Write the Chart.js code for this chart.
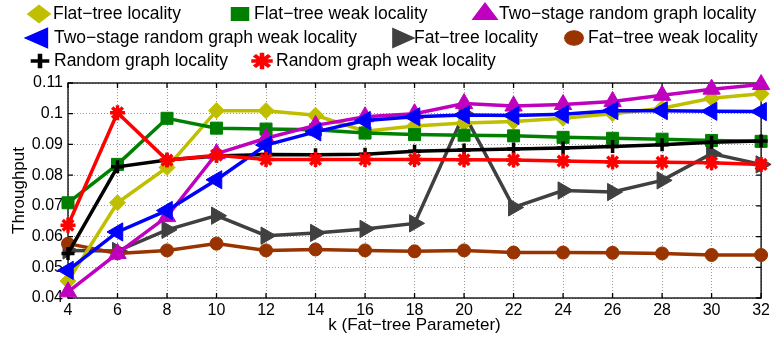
<!DOCTYPE html>
<html>
<head>
<meta charset="utf-8">
<script src="https://cdn.jsdelivr.net/npm/chart.js@4.4.0/dist/chart.umd.min.js"></script>
<style>
  html, body { margin: 0; padding: 0; background: #fff; }
  #wrap { width: 773px; height: 339px; }
</style>
</head>
<body>
<div id="wrap"><canvas id="thr"></canvas></div>
<script>
// k values and y ticks
const kValues = ['4', '6', '8', '10', '12', '14', '16', '18', '20', '22', '24', '26', '28', '30', '32'];
const yTicks = [0.04, 0.05, 0.06, 0.07, 0.08, 0.09, 0.1, 0.11];

// throughput per topology / traffic pattern
const flatTreeLoc   = [0.0455, 0.071, 0.0825, 0.101, 0.101, 0.0995, 0.0943, 0.096, 0.097, 0.0975, 0.0985, 0.100, 0.1018, 0.105, 0.1065];
const flatTreeWeak  = [0.071, 0.0835, 0.0985, 0.0953, 0.095, 0.0948, 0.0937, 0.0932, 0.093, 0.0928, 0.0923, 0.092, 0.0917, 0.0913, 0.091];
const twoStageLoc   = [0.042, 0.0545, 0.0665, 0.087, 0.092, 0.0962, 0.099, 0.100, 0.1033, 0.1025, 0.103, 0.104, 0.106, 0.108, 0.1095];
const twoStageWeak  = [0.049, 0.0615, 0.0685, 0.0785, 0.0898, 0.0941, 0.0978, 0.099, 0.0996, 0.0994, 0.0998, 0.101, 0.101, 0.1008, 0.1007];
const fatTreeLoc    = [0.0555, 0.0553, 0.0622, 0.0668, 0.0603, 0.0612, 0.0625, 0.0643, 0.100, 0.0695, 0.075, 0.0745, 0.0783, 0.087, 0.0835];
const fatTreeWeak   = [0.0577, 0.0545, 0.0555, 0.0577, 0.0555, 0.0558, 0.0555, 0.0552, 0.0555, 0.0548, 0.0548, 0.0547, 0.0545, 0.054, 0.054];
const randomLoc     = [0.0545, 0.0827, 0.0849, 0.0862, 0.0867, 0.0866, 0.0868, 0.0878, 0.0882, 0.0885, 0.0888, 0.0893, 0.0899, 0.0907, 0.0911];
const randomWeak    = [0.0637, 0.1003, 0.0849, 0.0865, 0.0851, 0.0851, 0.0851, 0.0851, 0.085, 0.0849, 0.0846, 0.0843, 0.0842, 0.084, 0.0835];

const FONT = "'Liberation Sans', Arial, Helvetica, sans-serif";
Chart.defaults.font.family = FONT;
Chart.defaults.color = '#000';

function series(label, data, color, style, radius, order, extra = {}) {
	return Object.assign({
		label: label, data: data, order: order,
		borderColor: color, backgroundColor: color,
		borderWidth: 3.5, tension: 0, clip: false,
		pointStyle: style, pointRadius: radius, pointHoverRadius: radius,
		pointBorderWidth: 1
	}, extra);
}

// later entries sit on top (lower order = drawn last)
const datasets = [
	series('Flat\u2212tree locality', flatTreeLoc, '#bfbf00', 'rectRot', 8, 6),
	series('Flat\u2212tree weak locality', flatTreeWeak, '#008000', 'rect', 8.5, 5),
	series('Two\u2212stage random graph locality', twoStageLoc, '#bf00bf', 'triangle', 10, 3),
	series('Two\u2212stage random graph weak locality', twoStageWeak, '#0000ff', 'triangle', 10.5, 2, {pointRotation: -90}),
	series('Fat\u2212tree locality', fatTreeLoc, '#404040', 'triangle', 10, 8, {pointRotation: 90}),
	series('Fat\u2212tree weak locality', fatTreeWeak, '#993300', 'circle', 6.5, 7),
	series('Random graph locality', randomLoc, '#000000', 'cross', 6.5, 4, {pointBorderWidth: 3.5}),
	series('Random graph weak locality', randomWeak, '#ff0000', 'star', 7.5, 1, {pointBorderWidth: 3.5})
];

// box around the plot with inward tick marks
const axesBox = {
	id: 'axesBox',
	beforeDatasetsDraw(chart) {
		const {ctx, chartArea: a, scales: {x, y}} = chart;
		const len = 5;
		ctx.save();
		ctx.strokeStyle = '#000';
		ctx.lineWidth = 1.3;
		ctx.beginPath();
		x.ticks.forEach((t, i) => {
			const px = x.getPixelForTick(i);
			ctx.moveTo(px, a.bottom); ctx.lineTo(px, a.bottom - len);
			ctx.moveTo(px, a.top); ctx.lineTo(px, a.top + len);
		});
		y.ticks.forEach((t, i) => {
			const py = y.getPixelForTick(i);
			ctx.moveTo(a.left, py); ctx.lineTo(a.left + len, py);
			ctx.moveTo(a.right, py); ctx.lineTo(a.right - len, py);
		});
		ctx.stroke();
		ctx.strokeRect(a.left, a.top, a.right - a.left, a.bottom - a.top);
		ctx.restore();
	}
};

// marker-only key in three rows above the plot
const keyLegend = {
	id: 'keyLegend',
	afterDraw(chart, args, opts) {
		const ctx = chart.ctx;
		ctx.save();
		ctx.font = opts.font;
		ctx.textBaseline = 'middle';
		chart.data.datasets.forEach((ds, i) => {
			const slot = opts.slots[i];
			ctx.save();
			ctx.translate(slot.x, slot.y);
			ctx.scale(opts.stretch, 1);
			ctx.fillStyle = ds.backgroundColor;
			ctx.strokeStyle = ds.borderColor;
			ctx.lineWidth = ds.pointBorderWidth;
			Chart.helpers.drawPoint(ctx, {
				pointStyle: ds.pointStyle, rotation: ds.pointRotation || 0,
				radius: ds.pointRadius * opts.grow, borderWidth: ds.pointBorderWidth
			}, 0, 0);
			ctx.restore();
			ctx.fillStyle = '#000';
			ctx.fillText(ds.label, slot.x + opts.gap, slot.y);
		});
		ctx.restore();
	}
};

new Chart(document.getElementById('thr'), {
	type: 'line',
	data: {labels: kValues, datasets: datasets},
	plugins: [axesBox, keyLegend],
	options: {
		responsive: true, maintainAspectRatio: false, animation: false,
		layout: {padding: {left: 4, right: 11, top: 83, bottom: 0}},
		plugins: {
			legend: {display: false},
			tooltip: {enabled: false},
			keyLegend: {
				font: '17.5px ' + FONT, gap: 14, stretch: 1.3, grow: 1.1,
				slots: [
					{x: 39, y: 14}, {x: 240, y: 14}, {x: 485, y: 14},
					{x: 40, y: 38}, {x: 400, y: 38}, {x: 574, y: 38},
					{x: 40, y: 61}, {x: 262, y: 61}
				]
			}
		},
		scales: {
			x: {
				type: 'category', offset: false,
				grid: {color: 'rgba(0,0,0,0.4)', lineWidth: 1, drawTicks: false},
				border: {display: false, dash: [1, 2]},
				ticks: {font: {size: 16}, padding: 3, maxRotation: 0, autoSkip: false},
				title: {display: true, text: 'k (Fat\u2212tree Parameter)', font: {size: 17}, padding: {top: 0, bottom: 3}},
				afterFit: (s) => { s.height = 41; }
			},
			y: {
				type: 'linear', min: 0.04, max: 0.11,
				afterBuildTicks: (s) => { s.ticks = yTicks.map(v => ({value: v})); },
				grid: {color: 'rgba(0,0,0,0.4)', lineWidth: 1, drawTicks: false},
				border: {display: false, dash: [1, 2]},
				ticks: {font: {size: 16}, padding: 5, callback: (v) => String(+v.toFixed(2))},
				title: {display: true, text: 'Throughput', font: {size: 17}, padding: {top: 5, bottom: 0}},
				afterFit: (s) => { s.width = 64; }
			}
		}
	}
});
</script>
</body>
</html>
